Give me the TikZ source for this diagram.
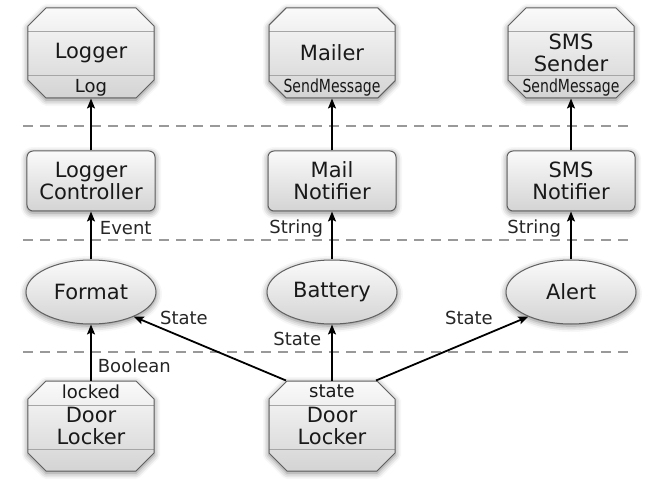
\documentclass[tikz,border=0pt]{standalone}
\usepackage{fontspec}
\setmainfont{DejaVu Sans}
\usepackage{graphicx}
\usetikzlibrary{shapes.misc,shapes.geometric,shadows.blur,arrows.meta}

\newcommand{\bigtext}{\fontsize{21bp}{22bp}\selectfont}
\newcommand{\porttext}{\fontsize{18bp}{19bp}\selectfont}

\begin{document}
\begin{tikzpicture}[x=1bp,y=-1bp,
	glow/.style={draw=black!62, line width=1bp, top color=black!2, bottom color=black!17,
		blur shadow={shadow blur radius=6bp, shadow xshift=0bp, shadow yshift=-2bp, shadow opacity=50}},
	component/.style={glow, chamfered rectangle, chamfered rectangle xsep=9bp, chamfered rectangle ysep=9bp,
		minimum width=126bp, minimum height=90bp, inner sep=0pt, align=center, font=\bigtext, text=black!90,
		path picture={\draw[black!35, line width=1bp]
			([yshift=-24bp]path picture bounding box.north west) -- ([yshift=-24bp]path picture bounding box.north east)
			([yshift=22bp]path picture bounding box.south west) -- ([yshift=22bp]path picture bounding box.south east);}},
	controller/.style={glow, rectangle, rounded corners=6bp, minimum width=128bp, minimum height=60bp,
		align=center, font=\bigtext, text=black!90},
	filter/.style={glow, ellipse, minimum width=130bp, minimum height=64bp, inner sep=0pt, font=\bigtext, text=black!90},
	port/.style={font=\porttext, text=black!90, inner sep=0pt},
	wire/.style={line width=1.8bp, -{Stealth[length=10bp,width=8bp,inset=2bp]}},
	flow/.style={font=\porttext, text=black!85, inner sep=2bp},
	layer/.style={black!40, line width=2bp, dash pattern=on 10bp off 7bp}]
	\useasboundingbox (0,0) rectangle (647,488);

	\coordinate (l1w) at (23,126); \coordinate (l1e) at (632,126);
	\coordinate (l2w) at (23,240); \coordinate (l2e) at (632,240);
	\coordinate (l3w) at (23,352); \coordinate (l3e) at (632,352);
	\draw[layer] (l1w) -- (l1e);
	\draw[layer] (l2w) -- (l2e);
	\draw[layer] (l3w) -- (l3e);

	% outputs
	\node[component] (logger) at (91,53) {Logger};
	\node[port] (loggerPort) at ([yshift=11bp]logger.south) {Log};
	\node[component] (mailer) at (332,53) {Mailer};
	\node[port] (mailerPort) at ([yshift=11bp]mailer.south) {\scalebox{0.78}[1]{SendMessage}};
	\node[component] (smsSender) at (571,53) {SMS\\Sender};
	\node[port] (smsPort) at ([yshift=11bp]smsSender.south) {\scalebox{0.78}[1]{SendMessage}};

	\node[controller] (loggerCtrl) at (91,181) {Logger\\Controller};
	\node[controller] (mailNotifier) at (332,181) {Mail\\Notifier};
	\node[controller] (smsNotifier) at (571,181) {SMS\\Notifier};

	\node[filter] (format) at (91,292) {Format};
	\node[filter] (battery) at (332,292) {Battery};
	\node[filter] (alert) at (571,292) {Alert};

	% inputs
	\node[component] (lockerA) at (91,426) {Door\\Locker};
	\node[port] (lockerAPort) at ([yshift=-11bp]lockerA.north) {locked};
	\node[component] (lockerB) at (332,426) {Door\\Locker};
	\node[port] (lockerBPort) at ([yshift=-11bp]lockerB.north) {state};

	\draw[wire] (loggerCtrl.north) -- (logger.south);
	\draw[wire] (mailNotifier.north) -- (mailer.south);
	\draw[wire] (smsNotifier.north) -- (smsSender.south);

	\draw[wire] (format.north) -- node[flow, pos=0.65, right=6bp] (eventLbl) {Event} (loggerCtrl.south);
	\draw[wire] (battery.north) -- node[flow, pos=0.65, left=6bp] (mailLbl) {String} (mailNotifier.south);
	\draw[wire] (alert.north) -- node[flow, pos=0.65, left=7bp] (smsLbl) {String} (smsNotifier.south);

	\draw[wire] (lockerA.north) -- node[flow, pos=0.27, right=4bp] (boolLbl) {Boolean} (format.south);
	\draw[wire] (lockerB.north) -- node[flow, pos=0.74, left=8bp] (stateLbl) {State} (battery.south);
	\draw[wire] ([xshift=-46bp]lockerB.north) -- node[flow, pos=0.67, above=10bp] (stateLeftLbl) {State} (format.-30);
	\draw[wire] ([xshift=44bp]lockerB.north) -- node[flow, pos=0.61, above=14bp] (stateRightLbl) {State} (alert.-150);
\end{tikzpicture}
\end{document}
